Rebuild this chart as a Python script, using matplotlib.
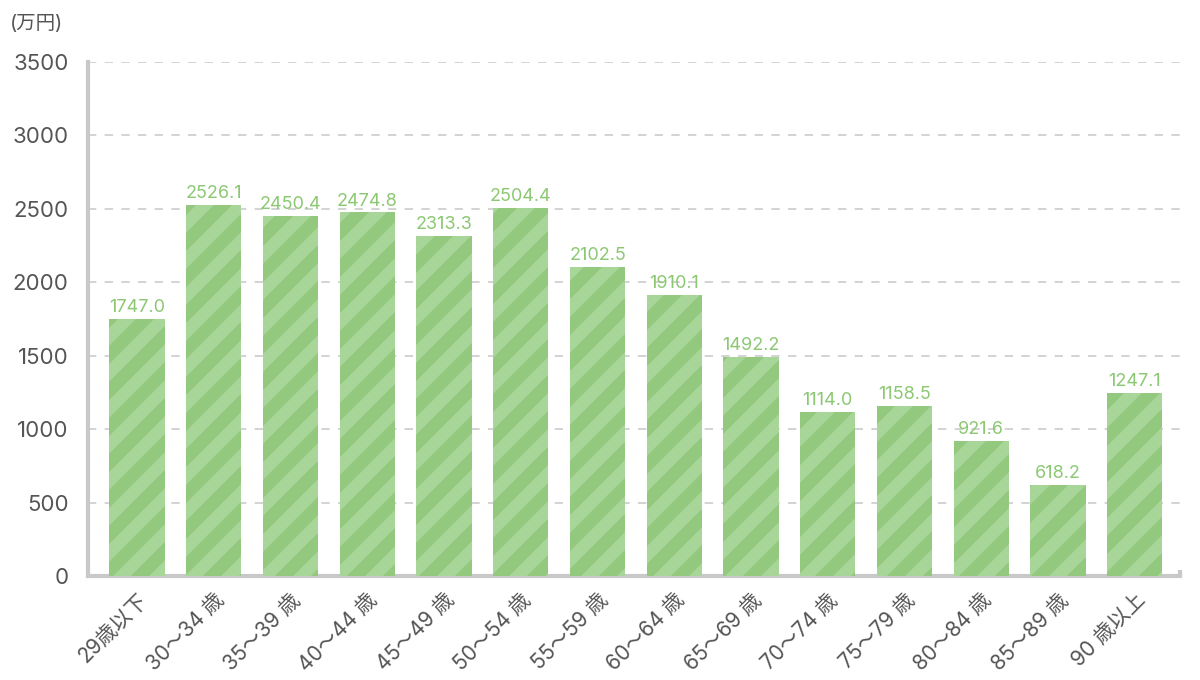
import matplotlib.pyplot as plt
import numpy as np
from matplotlib.collections import LineCollection
from matplotlib.transforms import IdentityTransform

plt.rcParams['font.family'] = ['Inter', 'Noto Sans CJK JP', 'DejaVu Sans']

# Data
categories = ['29歳以下', '30～34 歳', '35～39 歳', '40～44 歳', '45～49 歳',
              '50～54 歳', '55～59 歳', '60～64 歳', '65～69 歳', '70～74 歳',
              '75～79 歳', '80～84 歳', '85～89 歳', '90 歳以上']
values = [1747.0, 2526.1, 2450.4, 2474.8, 2313.3, 2504.4, 2102.5, 1910.1,
          1492.2, 1114.0, 1158.5, 921.6, 618.2, 1247.1]
yticks = [0, 500, 1000, 1500, 2000, 2500, 3000, 3500]

light = '#a8d598'
dark = '#93c97e'
label_green = '#8cc873'
text_gray = '#555555'

fig = plt.figure(figsize=(12, 6.8), dpi=100)
ax = fig.add_axes([0.0733, 0.153, 0.91, 0.756])

x = np.arange(len(categories))
bars = ax.bar(x, values, width=0.72, color=light, linewidth=0, zorder=3)

ax.set_xlim(-0.64, 13.59)
ax.set_ylim(0, 3500)

# diagonal stripes (lines x - y = n * period in pixels), clipped to each bar
period = 36
for b in bars:
    (x0, y0), (x1, y1) = ax.transData.transform(
        [(b.get_x(), 0), (b.get_x() + b.get_width(), b.get_height())])
    segs = []
    for n in range(int((x0 - y1) // period) - 1, int((x1 - y0) // period) + 2):
        c = n * period
        segs.append([(y0 - 20 + c, y0 - 20), (y1 + 20 + c, y1 + 20)])
    lc = LineCollection(segs, colors=dark, linewidths=9.2,
                        transform=IdentityTransform(), zorder=3.5)
    ax.add_collection(lc, autolim=False)
    lc.set_clip_path(b)

for xi, v in zip(x, values):
    ax.text(xi, v + 20, f'{v:.1f}', ha='center', va='bottom',
            fontsize=13, color=label_green, zorder=4)

ax.set_yticks(yticks)
ax.set_yticklabels([str(t) for t in yticks], fontsize=16, color=text_gray)
ax.set_xticks(x)
ax.set_xticklabels(categories, rotation=45, ha='right', va='top',
                   rotation_mode='anchor', fontsize=15, color=text_gray)
ax.tick_params(axis='y', length=0, pad=14)
ax.tick_params(axis='x', length=0, pad=10)

ax.yaxis.grid(True, linestyle=(0, (5, 5)), color='#cccccc', linewidth=1.2,
              zorder=0)
ax.set_axisbelow(True)

for s in ['top', 'right']:
    ax.spines[s].set_visible(False)
for s in ['left', 'bottom']:
    ax.spines[s].set_color('#c8c8c8')
    ax.spines[s].set_linewidth(3)
ax.plot([1, 1], [0, 0.012], transform=ax.transAxes, color='#c8c8c8',
        linewidth=3, clip_on=False, solid_capstyle='butt')

fig.text(0.008, 0.965, '(万円)', fontsize=14, color=text_gray, va='center')

fig.savefig('out.png', dpi=100)
